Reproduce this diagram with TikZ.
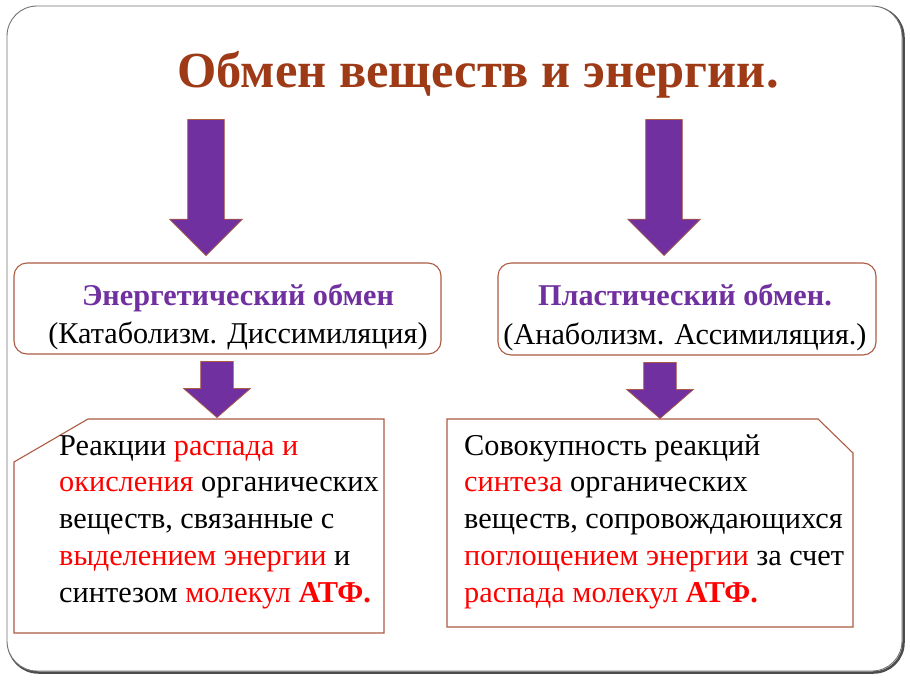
\documentclass[tikz,border=0pt]{standalone}
\usepackage{fontspec}
\setmainfont{Liberation Serif}
\usetikzlibrary{positioning}
\usetikzlibrary{shapes.arrows}
\usetikzlibrary{calc}

\definecolor{titlered}{RGB}{158,58,22}
\definecolor{obmen}{RGB}{112,48,160}
\definecolor{rim}{RGB}{172,92,66}
\newcommand{\rd}[1]{\textcolor{red}{#1}}

\begin{document}
\begin{tikzpicture}[x=1pt,y=-1pt,
    bigarrow/.style={single arrow, draw=rim, fill=obmen, line width=0.7pt, rotate=-90, inner xsep=0pt, inner ysep=18pt,
        minimum height=136pt, single arrow head extend=18pt, single arrow tip angle=90},
    smallarrow/.style={bigarrow, minimum height=56pt, inner ysep=16pt, single arrow head extend=17pt, single arrow tip angle=98},
    kind/.style={draw=rim, line width=1.1pt, rounded corners=13pt, inner sep=0pt},
    kindtext/.style={align=center, anchor=base, inner sep=0pt, font=\fontsize{30.2}{38.5}\selectfont},
    note/.style={draw=rim, line width=1.1pt},
    notetext/.style={align=left, anchor=base west, inner sep=0pt, font=\fontsize{30.3}{36.7}\selectfont}]
    \useasboundingbox (0,0) rectangle (910,683);
    % frame with shadow
    \draw[line width=2.5pt, black!70, rounded corners=30pt] (8.5,7.5) rectangle (903.5,672.5);
    \draw[fill=white, draw=black!55, line width=0.9pt, rounded corners=30pt] (7,6) rectangle (902,671);

    \node[font=\fontsize{50.5}{60}\selectfont\bfseries, text=titlered, inner sep=0pt, anchor=base] (title) at (478,87) {Обмен веществ и энергии.};

    \node[bigarrow, anchor=tip] (arE) at (206,256) {};
    \node[bigarrow, anchor=tip] (arP) at (664,256) {};

    \node[kind, minimum width=427pt, minimum height=91pt] (energy) at (227.5,308.5) {};
    \node[kind, minimum width=378pt, minimum height=92pt] (plastic) at (687,309) {};
    % base of a multi-line node is its last line
    \node[kindtext] (energyT) at (238,343.5) {\textcolor{obmen}{\textbf{Энергетический обмен}}\\(Катаболизм. Диссимиляция)};
    \node[kindtext] (plasticT) at (685,344) {\textcolor{obmen}{\textbf{Пластический обмен.}}\\(Анаболизм. Ассимиляция.)};

    \node[smallarrow, anchor=tip] (arE2) at (217,418) {};
    \node[smallarrow, anchor=tip] (arP2) at (660,419) {};

    \draw[note] (14,462) -- (88,419) -- (384,419) -- (384,633) -- (14,633) -- cycle;
    \draw[note] (447,419) -- (818,419) -- (853,453) -- (853,627) -- (447,627) -- cycle;
    \node[notetext] (catab) at (59,602) {Реакции \rd{распада и}\\\rd{окисления} органических\\веществ, связанные с\\\rd{выделением энергии} и\\синтезом \rd{молекул \textbf{АТФ.}}};
    \node[notetext] (anab) at (464,602) {Совокупность реакций\\\rd{синтеза} органических\\веществ, сопровождающихся\\\rd{поглощением энергии} за счет\\\rd{распада молекул \textbf{АТФ.}}};
\end{tikzpicture}
\end{document}
